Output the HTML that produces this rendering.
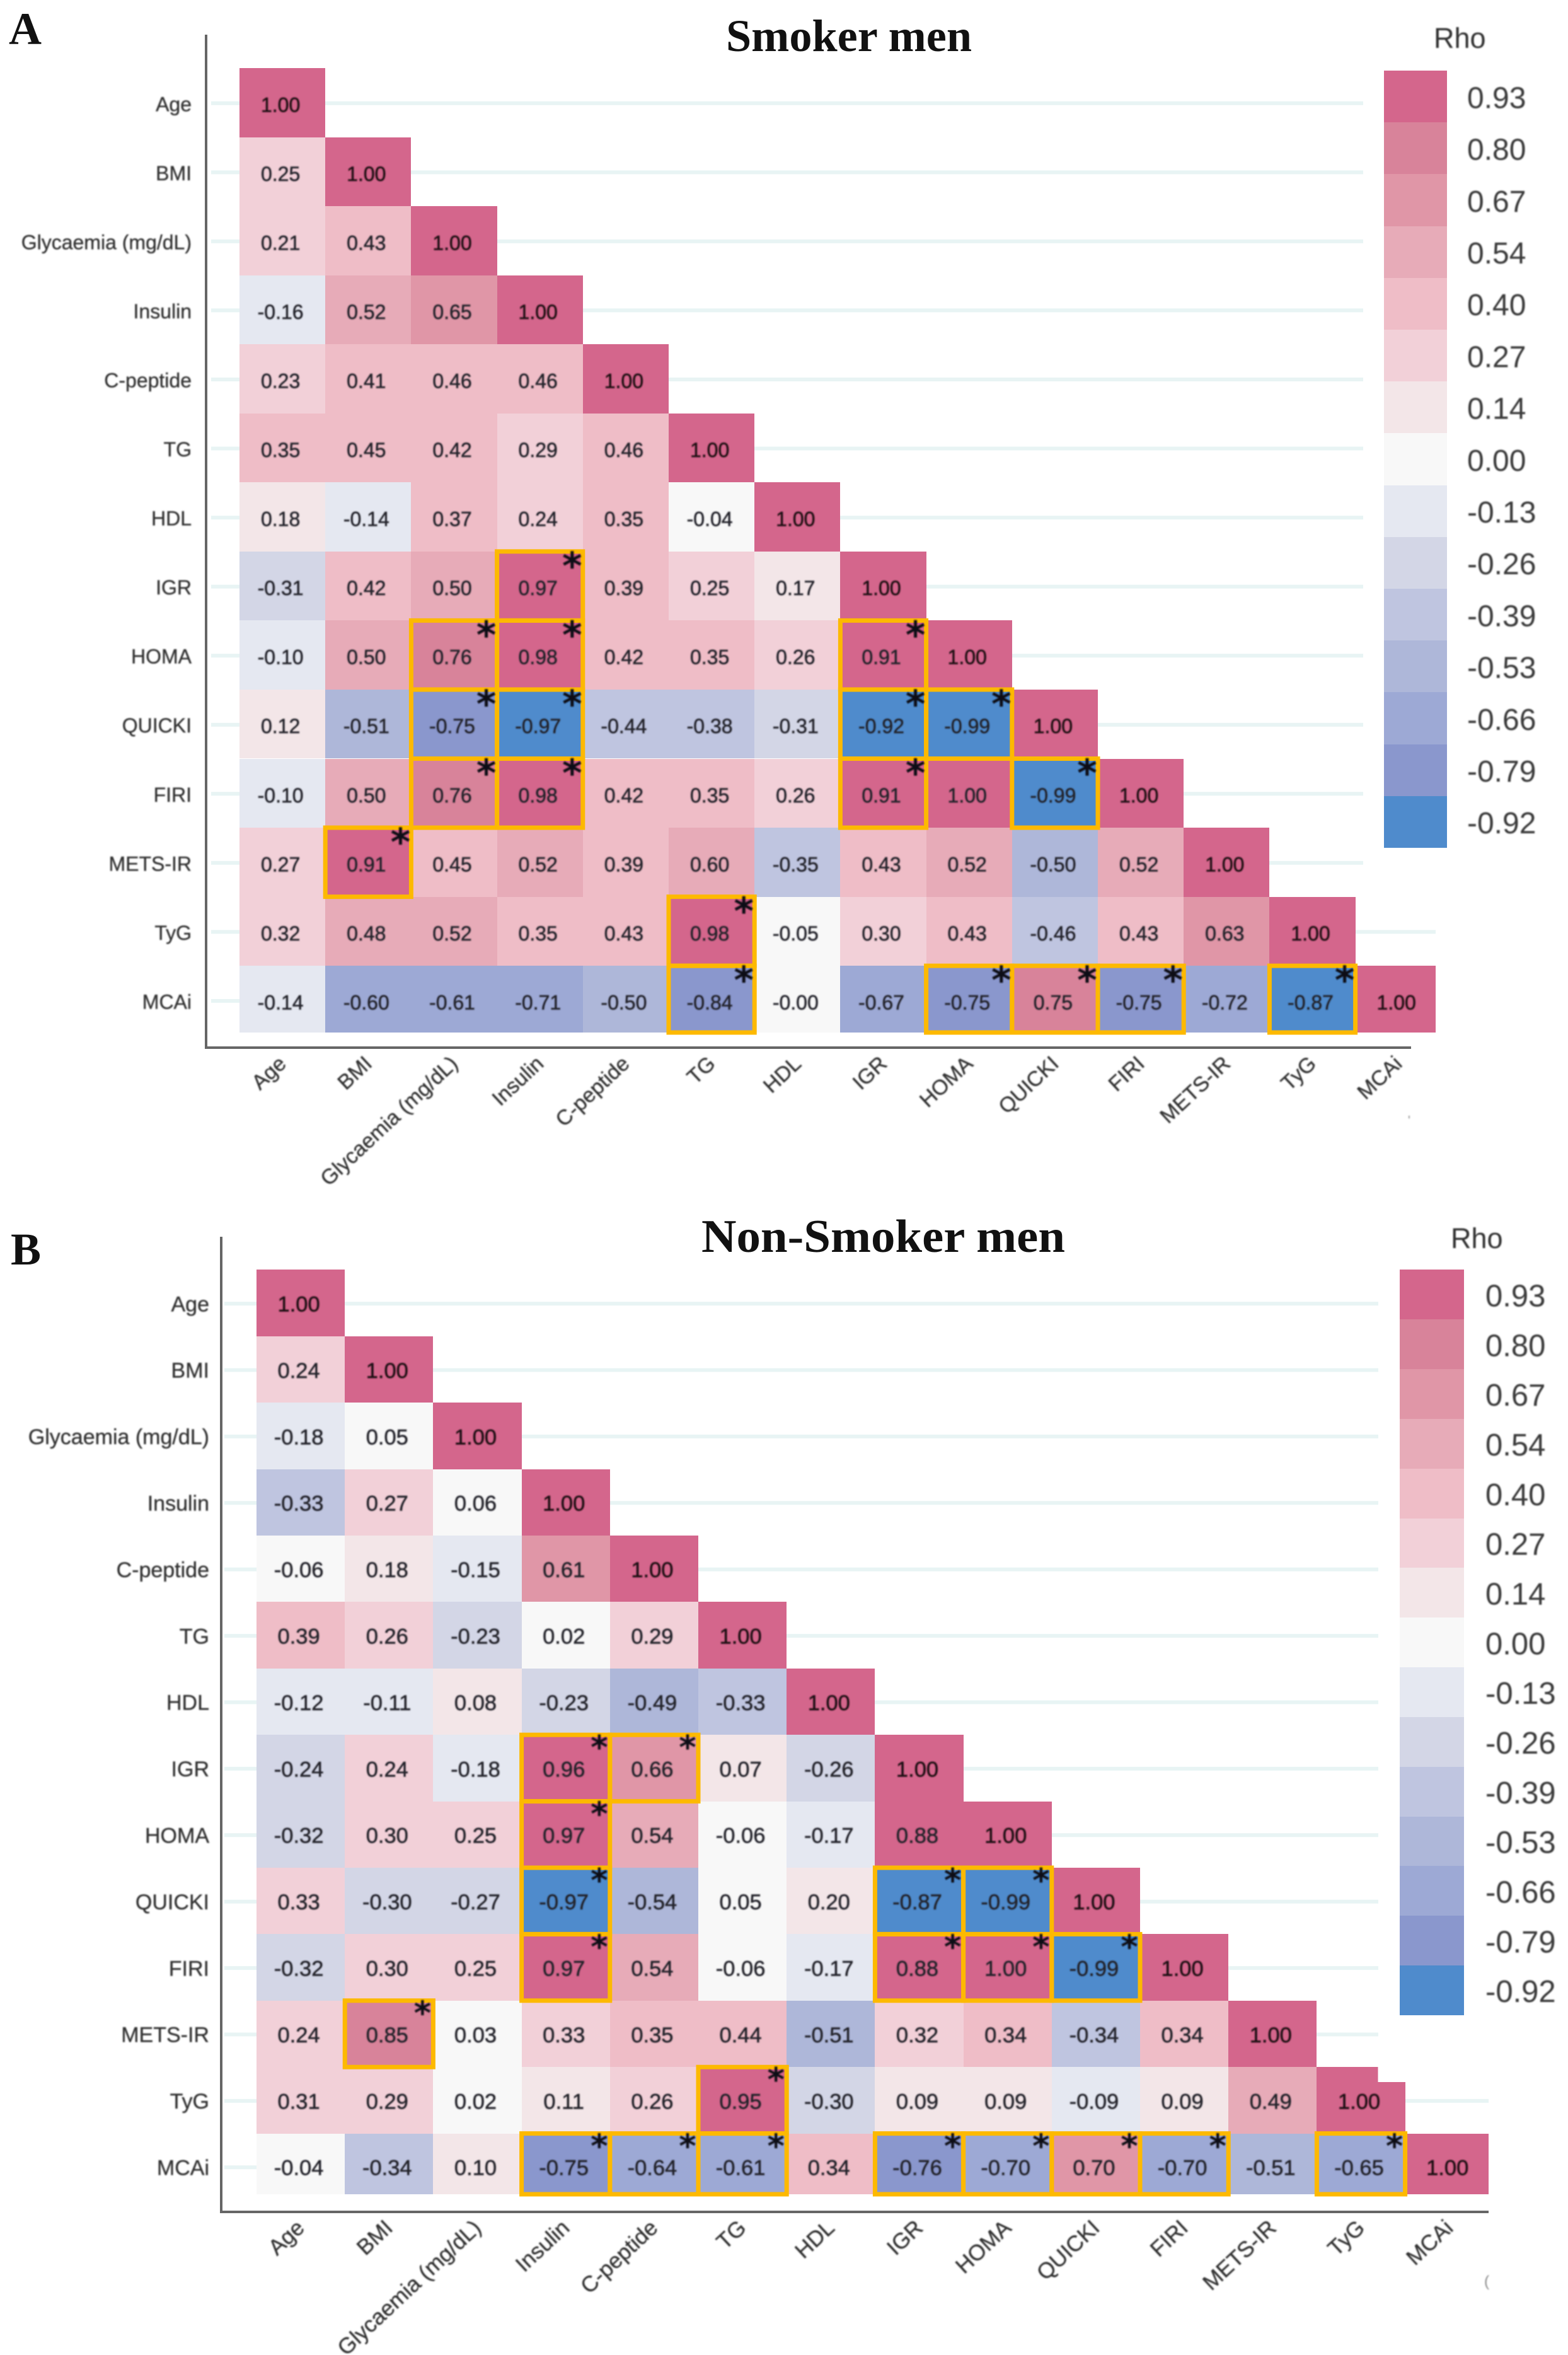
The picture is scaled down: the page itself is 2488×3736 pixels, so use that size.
<!DOCTYPE html>
<html lang="en">
<head>
<meta charset="utf-8">
<title>Correlation matrices: smoker and non-smoker men</title>
<style>
html,body{margin:0;padding:0;background:#fff;}
svg{display:block;}
.sans{font-family:"Liberation Sans",Arial,sans-serif;}
.serif{font-family:"Liberation Serif","Times New Roman",serif;font-weight:bold;}
.star{font-family:"DejaVu Sans",sans-serif;font-weight:bold;}
</style>
</head>
<body>
<svg id="figure" width="2488" height="3736" viewBox="0 0 2488 3736" xmlns="http://www.w3.org/2000/svg">
  <defs><filter id="soft" x="-5%" y="-5%" width="110%" height="110%"><feGaussianBlur stdDeviation="1"/></filter></defs>
</svg>
<script>
const variables = ["Age","BMI","Glycaemia (mg/dL)","Insulin","C-peptide","TG","HDL","IGR","HOMA","QUICKI","FIRI","METS-IR","TyG","MCAi"];
const legendValues = [0.93,0.80,0.67,0.54,0.40,0.27,0.14,0.00,-0.13,-0.26,-0.39,-0.53,-0.66,-0.79,-0.92];
const legendColors = ["#d4668c","#d8839a","#e096a7","#e7abb8","#efbdc7","#f2d0d8","#f3e6e8","#f8f8f8","#e5e8f1","#d3d6e6","#bfc5e0","#aeb7d9","#9da9d5","#8a97cd","#4f8bcc"];

const smokerRho = [
 [1],
 [0.25,1],
 [0.21,0.43,1],
 [-0.16,0.52,0.65,1],
 [0.23,0.41,0.46,0.46,1],
 [0.35,0.45,0.42,0.29,0.46,1],
 [0.18,-0.14,0.37,0.24,0.35,-0.04,1],
 [-0.31,0.42,0.50,0.97,0.39,0.25,0.17,1],
 [-0.10,0.50,0.76,0.98,0.42,0.35,0.26,0.91,1],
 [0.12,-0.51,-0.75,-0.97,-0.44,-0.38,-0.31,-0.92,-0.99,1],
 [-0.10,0.50,0.76,0.98,0.42,0.35,0.26,0.91,1,-0.99,1],
 [0.27,0.91,0.45,0.52,0.39,0.60,-0.35,0.43,0.52,-0.50,0.52,1],
 [0.32,0.48,0.52,0.35,0.43,0.98,-0.05,0.30,0.43,-0.46,0.43,0.63,1],
 [-0.14,-0.60,-0.61,-0.71,-0.50,-0.84,-0.001,-0.67,-0.75,0.75,-0.75,-0.72,-0.87,1]
];
const smokerSignificant = [[7,3],[8,2],[8,3],[9,2],[9,3],[10,2],[10,3],[8,7],[9,7],[9,8],[10,7],[10,9],[11,1],[12,5],[13,5],[13,8],[13,9],[13,10],[13,12]];

const nonSmokerRho = [
 [1],
 [0.24,1],
 [-0.18,0.05,1],
 [-0.33,0.27,0.06,1],
 [-0.06,0.18,-0.15,0.61,1],
 [0.39,0.26,-0.23,0.02,0.29,1],
 [-0.12,-0.11,0.08,-0.23,-0.49,-0.33,1],
 [-0.24,0.24,-0.18,0.96,0.66,0.07,-0.26,1],
 [-0.32,0.30,0.25,0.97,0.54,-0.06,-0.17,0.88,1],
 [0.33,-0.30,-0.27,-0.97,-0.54,0.05,0.20,-0.87,-0.99,1],
 [-0.32,0.30,0.25,0.97,0.54,-0.06,-0.17,0.88,1,-0.99,1],
 [0.24,0.85,0.03,0.33,0.35,0.44,-0.51,0.32,0.34,-0.34,0.34,1],
 [0.31,0.29,0.02,0.11,0.26,0.95,-0.30,0.09,0.09,-0.09,0.09,0.49,1],
 [-0.04,-0.34,0.10,-0.75,-0.64,-0.61,0.34,-0.76,-0.70,0.70,-0.70,-0.51,-0.65,1]
];
const nonSmokerSignificant = [[7,3],[7,4],[8,3],[9,3],[10,3],[11,1],[12,5],[13,3],[13,4],[13,5],[9,7],[9,8],[10,7],[10,8],[10,9],[13,7],[13,8],[13,9],[13,10],[13,12]];

const NS = "http://www.w3.org/2000/svg";
const root = document.getElementById("figure");

function node(parent, tag, attrs, text) {
  const el = document.createElementNS(NS, tag);
  for (const k in attrs) el.setAttribute(k, attrs[k]);
  if (text !== undefined) el.textContent = text;
  parent.appendChild(el);
  return el;
}

function colorFor(v) {
  let best = 0, dist = Infinity;
  legendValues.forEach(function (lv, i) {
    const d = Math.abs(lv - v);
    if (d < dist) { dist = d; best = i; }
  });
  return legendColors[best];
}

function drawPanel(p, rho, significant) {
  const g = node(root, "g", {});
  
  

  const xScale = function (k) { return p.x0 + k * p.xStep; };
  const yScale = function (k) { return p.y0 + k * p.yStep; };
  const xWidth = function (k) { return Math.min(p.xStep, p.xEnd - xScale(k)); };
  const yHeight = function (k) { return Math.min(p.yStep, p.yEnd - yScale(k)); };
  const xMid = function (k) { return xScale(k) + p.xStep / 2; };
  const yMid = function (k) { return yScale(k) + p.yStep / 2; };

  // gridlines
  variables.forEach(function (name, r) {
    const end = r === variables.length - 1 ? p.x0 : (r === variables.length - 2 ? p.xEnd : p.gridEnd);
    const line = node(g, "line", {x1: p.gridStart, x2: end, y1: yMid(r) + 1, y2: yMid(r) + 1, stroke: "#e8f4f4", "stroke-width": 6});
    
    
  });

  // heatmap cells
  rho.forEach(function (row, r) {
    row.forEach(function (v, c) {
      const cell = node(g, "rect", {x: Math.round(xScale(c)), y: Math.round(yScale(r)), width: Math.round(xScale(c) + xWidth(c)) - Math.round(xScale(c)), height: Math.round(yScale(r) + yHeight(r)) - Math.round(yScale(r)), fill: colorFor(v), "shape-rendering": "crispEdges"});
      
      
    });
  });

  if (p.notch) {
    const mask = node(g, "rect", {x: xScale(12) + p.notch.dx, y: yScale(12) - 2, width: p.xStep - p.notch.dx + 1, height: p.notch.h, fill: "#fff", "shape-rendering": "crispEdges"});
    
    
  }

  // significant outlines
  significant.forEach(function (pair) {
    const r = pair[0], c = pair[1];
    const box = node(g, "rect", {x: xScale(c), y: yScale(r), width: xWidth(c), height: yHeight(r), fill: "none", stroke: "#fdb900", "stroke-width": p.boxStroke});
    
    
  });

  // cell values
  const soft = node(g, "g", {filter: "url(#soft)"});
  
  
  rho.forEach(function (row, r) {
    row.forEach(function (v, c) {
      const ink = r === c ? "#1c0c12" : "#232329";
      const t = node(soft, "text", {x: xMid(c) - 3, y: yMid(r) + p.valueFont * 0.36 + p.valueDy, "text-anchor": "middle", "font-size": p.valueFont, fill: ink, stroke: ink, "stroke-width": 0.5, class: "sans"}, v.toFixed(2));
      
      
    });
  });

  // stars
  significant.forEach(function (pair) {
    const r = pair[0], c = pair[1];
    const s = node(soft, "text", {x: xScale(c) + xWidth(c) - p.starDx, y: yScale(r) + p.starDy + p.starFont * 0.44, "text-anchor": "middle", "font-size": p.starFont, fill: "#0b0b12", class: "star"}, "*");
    
    
  });

  // axes
  const yAxis = node(g, "line", {x1: p.axisX, x2: p.axisX, y1: p.axisTop, y2: p.axisY + 2, stroke: "#666", "stroke-width": 4});
  
  
  const xAxis = node(g, "line", {x1: p.axisX - 2, x2: p.axisEnd, y1: p.axisY, y2: p.axisY, stroke: "#666", "stroke-width": 4});
  
  

  // axis labels
  variables.forEach(function (name, i) {
    const yl = node(soft, "text", {x: p.yLabelX, y: yMid(i) + p.axisFont * 0.36 + p.labelDy, "text-anchor": "end", "font-size": p.axisFont, fill: "#333", stroke: "#333", "stroke-width": 0.35, class: "sans"}, name);
    
    
    const px = xMid(i) + 8, py = p.axisY + 28;
    const xl = node(soft, "text", {x: px, y: py, "text-anchor": "end", "font-size": p.xFont, fill: "#333", stroke: "#333", "stroke-width": 0.35, class: "sans", transform: "rotate(-43 " + px + " " + py + ")"}, name);
    
    
  });

  // legend
  const band = (p.legendBottom - p.legendTop) / legendValues.length;
  legendValues.forEach(function (v, i) {
    const top = p.legendTop + i * band;
    const swatch = node(g, "rect", {x: p.legendX, y: Math.round(top), width: p.legendW, height: Math.round(top + band) - Math.round(top), fill: legendColors[i], "shape-rendering": "crispEdges"});
    
    
    const lab = node(soft, "text", {x: p.legendLabelX, y: top + band / 2 + p.legendFont * 0.36 + 1, "font-size": p.legendFont, fill: "#3a3a3a", class: "sans"}, v.toFixed(2));
    
    
  });
  const rhoTitle = node(soft, "text", {x: p.rhoX, y: p.rhoY, "font-size": 45, fill: "#333", class: "sans"}, "Rho");
  
  

  // titles
  const title = node(g, "text", {x: p.titleX, y: p.titleY, "font-size": p.titleFont, textLength: p.titleW, lengthAdjust: "spacingAndGlyphs", fill: "#111", class: "serif"}, p.title);
  
  
  const letter = node(g, "text", {x: p.letterX, y: p.letterY, "font-size": 72, fill: "#111", class: "serif"}, p.letter);
  
  

  // scan artefact below the x axis
  const stray = node(soft, "text", {x: p.strayX, y: p.strayY, "font-size": p.strayFont, fill: "#888", class: "sans"}, p.strayGlyph);
  
  
}

drawPanel({
  id: "smoker", title: "Smoker men", letter: "A", letterX: 14, letterY: 70,
  titleX: 1152, titleY: 81, titleFont: 72, titleW: 390,
  x0: 380, xStep: 136.2, xEnd: 2278, y0: 108, yStep: 109.55, yEnd: 1638,
  gridStart: 335, gridEnd: 2163,
  axisX: 327, axisTop: 55, axisY: 1662, axisEnd: 2239,
  yLabelX: 304, axisFont: 32, xFont: 33.5, valueFont: 32, valueDy: 3, labelDy: 2,
  boxStroke: 7, starFont: 60, starDx: 17, starDy: 17,
  legendX: 2196, legendW: 100, legendTop: 112, legendBottom: 1345,
  legendLabelX: 2328, legendFont: 48, rhoX: 2275, rhoY: 76,
  strayX: 2234, strayY: 1784, strayFont: 20, strayGlyph: "'"
}, smokerRho, smokerSignificant);

drawPanel({
  id: "non-smoker", title: "Non-Smoker men", letter: "B", letterX: 17, letterY: 2006,
  titleX: 1113, titleY: 1986, titleFont: 74, titleW: 577,
  x0: 407, xStep: 140.2, xEnd: 2362, y0: 2014.4, yStep: 105.4, yEnd: 3481,
  gridStart: 356, gridEnd: 2187,
  axisX: 351, axisTop: 1962, axisY: 3509, axisEnd: 2362,
  yLabelX: 332, axisFont: 34, xFont: 35, valueFont: 34.5, valueDy: 1, labelDy: 1,
  boxStroke: 7, starFont: 52, starDx: 17, starDy: 15, notch: {dx: 97, h: 26},
  legendX: 2221, legendW: 102, legendTop: 2014.4, legendBottom: 3197,
  legendLabelX: 2357, legendFont: 49, rhoX: 2302, rhoY: 1980,
  strayX: 2355, strayY: 3627, strayFont: 24, strayGlyph: "("
}, nonSmokerRho, nonSmokerSignificant);
</script>
</body>
</html>
